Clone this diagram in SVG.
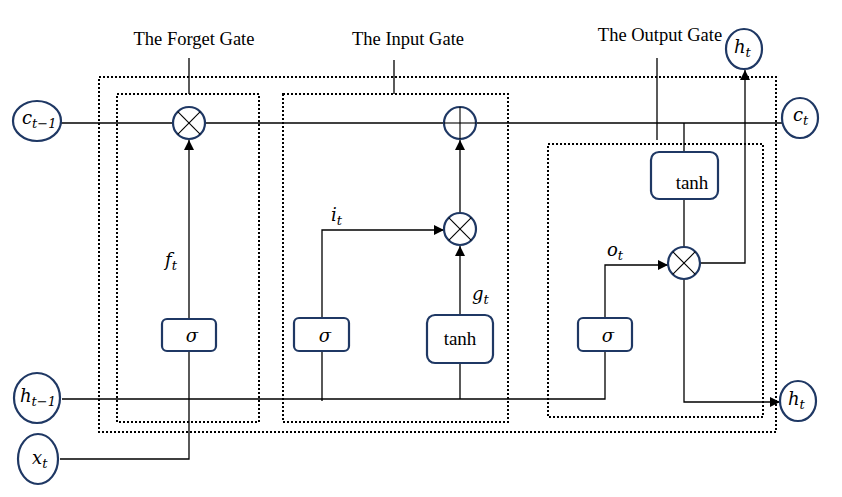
<svg xmlns="http://www.w3.org/2000/svg" width="842" height="497" viewBox="0 0 842 497">
<style>
.dot{fill:none;stroke:#000;stroke-width:2;stroke-dasharray:2 2}
.ln{fill:none;stroke:#000;stroke-width:1.3}
.cir{fill:#fff;stroke:#1F3864;stroke-width:2.2}
.box{fill:#fff;stroke:#1F3864;stroke-width:2.2}
.x{stroke:#000;stroke-width:1.1}
.gl{font-family:"Liberation Serif",serif;font-size:18.5px;fill:#000}
.m{font-family:"DejaVu Serif","Liberation Serif",serif;font-style:italic;font-size:18px;fill:#000}
.s{font-size:13px}
.t{font-family:"Liberation Serif",serif;font-size:19px;fill:#000}
</style>
<defs>
<marker id="ah" viewBox="0 0 10 10" refX="10" refY="5" markerWidth="10" markerHeight="10" markerUnits="userSpaceOnUse" orient="auto">
<path d="M0,0 L10,5 L0,10 Z" fill="#000"/>
</marker>
</defs>
<rect width="842" height="497" fill="#fff"/>
<g id="gates">
<rect class="dot" x="99" y="77" width="677" height="355"/>
<rect class="dot" x="117" y="94" width="142" height="328"/>
<rect class="dot" x="283" y="94" width="225" height="328"/>
<rect class="dot" x="548" y="144" width="215" height="273"/>
<text class="gl" x="194" y="45" text-anchor="middle">The Forget Gate</text>
<text class="gl" x="408" y="45" text-anchor="middle">The Input Gate</text>
<text class="gl" x="660" y="41" text-anchor="middle">The Output Gate</text>
</g>
<g id="connectors">
<line class="ln" x1="189" y1="58" x2="189" y2="94"/>
<line class="ln" x1="394" y1="60" x2="394" y2="94"/>
<line class="ln" x1="657" y1="58" x2="657" y2="140"/>
<line class="ln" x1="60" y1="123" x2="783" y2="123"/>
<line class="ln" x1="684" y1="123" x2="684" y2="152"/>
<line class="ln" x1="684" y1="198" x2="684" y2="247"/>
<polyline class="ln" points="700,263 745,263 745,70" marker-end="url(#ah)"/>
<polyline class="ln" points="684,279 684,402 780,402" marker-end="url(#ah)"/>
<polyline class="ln" points="62,399 605,399 605,265 668,265" marker-end="url(#ah)"/>
<polyline class="ln" points="60,459 189,459 189,140" marker-end="url(#ah)"/>
<polyline class="ln" points="322,401 322,230 444,230" marker-end="url(#ah)"/>
<line class="ln" x1="460" y1="399" x2="460" y2="246" marker-end="url(#ah)"/>
<line class="ln" x1="460" y1="213" x2="460" y2="140" marker-end="url(#ah)"/>
<text class="m" x="165" y="266">f<tspan class="s" dy="4">t</tspan></text>
<text class="m" x="331" y="221">i<tspan class="s" dy="4">t</tspan></text>
<text class="m" x="472" y="300">g<tspan class="s" dy="4">t</tspan></text>
<text class="m" x="607" y="256">o<tspan class="s" dy="4">t</tspan></text>
</g>
<g id="c_prev"><ellipse class="cir" cx="37" cy="121" rx="24" ry="20"/><text class="m" x="22" y="124">c<tspan class="s" dy="4">t−1</tspan></text></g>
<g id="h_prev"><ellipse class="cir" cx="37" cy="398" rx="23" ry="25"/><text class="m" x="20" y="402">h<tspan class="s" dy="4">t−1</tspan></text></g>
<g id="x_t"><ellipse class="cir" cx="38" cy="459" rx="20" ry="25"/><text class="m" x="32" y="464">x<tspan class="s" dy="4">t</tspan></text></g>
<g id="c_t"><ellipse class="cir" cx="800" cy="118" rx="18" ry="20"/><text class="m" x="793" y="121">c<tspan class="s" dy="4">t</tspan></text></g>
<g id="h_t_top"><ellipse class="cir" cx="744" cy="49" rx="18" ry="20"/><text class="m" x="734" y="53">h<tspan class="s" dy="4">t</tspan></text></g>
<g id="h_t_right"><ellipse class="cir" cx="798" cy="401" rx="18" ry="20"/><text class="m" x="788" y="405">h<tspan class="s" dy="4">t</tspan></text></g>
<g id="forget_mul"><circle class="cir" cx="189" cy="123" r="16"/><line class="x" x1="177.7" y1="111.7" x2="200.3" y2="134.3"/><line class="x" x1="200.3" y1="111.7" x2="177.7" y2="134.3"/></g>
<g id="input_mul"><circle class="cir" cx="460" cy="229" r="16"/><line class="x" x1="448.7" y1="217.7" x2="471.3" y2="240.3"/><line class="x" x1="471.3" y1="217.7" x2="448.7" y2="240.3"/></g>
<g id="output_mul"><circle class="cir" cx="684" cy="263" r="16"/><line class="x" x1="672.7" y1="251.7" x2="695.3" y2="274.3"/><line class="x" x1="695.3" y1="251.7" x2="672.7" y2="274.3"/></g>
<g id="plus"><circle class="cir" cx="460" cy="123" r="16"/><line class="x" x1="444" y1="123" x2="476" y2="123"/><line class="x" x1="460" y1="107" x2="460" y2="139"/></g>
<g id="forget_sigma"><rect class="box" x="162" y="319" width="54" height="32" rx="5"/><text class="m" x="192" y="342" text-anchor="middle">σ</text></g>
<g id="input_sigma"><rect class="box" x="294" y="318" width="55" height="33" rx="5"/><text class="m" x="325" y="342" text-anchor="middle">σ</text></g>
<g id="input_tanh"><rect class="box" x="427" y="315" width="66" height="48" rx="8"/><text class="t" x="460" y="345" text-anchor="middle">tanh</text></g>
<g id="output_sigma"><rect class="box" x="578" y="318" width="54" height="33" rx="5"/><text class="m" x="608" y="342" text-anchor="middle">σ</text></g>
<g id="output_tanh"><rect class="box" x="651" y="152" width="67" height="47" rx="8"/><text class="t" x="692" y="189" text-anchor="middle">tanh</text></g>
</svg>
